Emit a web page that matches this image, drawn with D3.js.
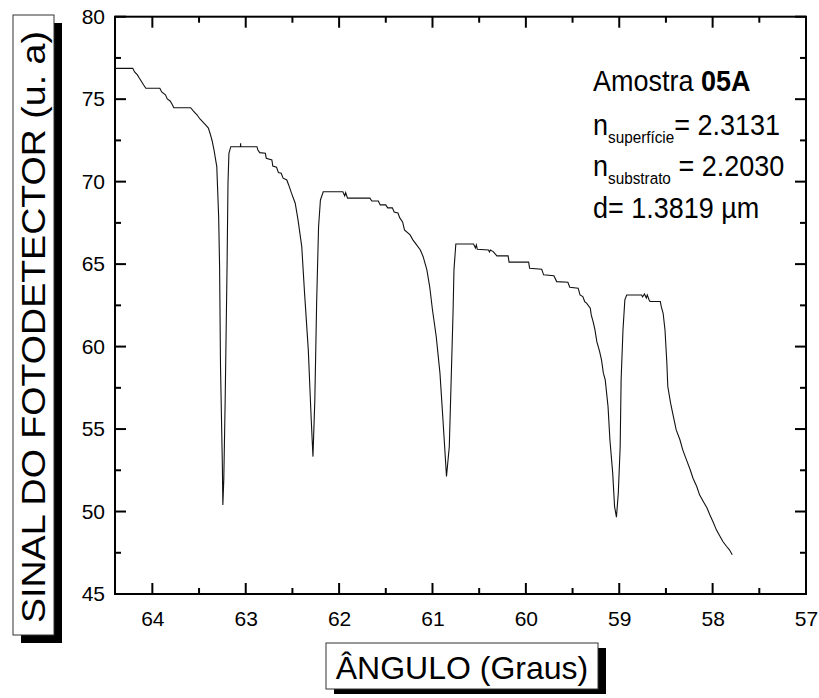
<!DOCTYPE html>
<html>
<head>
<meta charset="utf-8">
<script src="https://cdn.jsdelivr.net/npm/d3@7"></script>
<style>
  body { margin: 0; background: #fff; }
  svg { display: block; font-family: "Liberation Sans", Arial, sans-serif; }
</style>
</head>
<body>
<svg width="819" height="698"></svg>
<script>
// Measured curve: angle (degrees) and photodetector signal (a.u.)
var angle = [
  64.40, 64.21, 64.19, 64.16, 64.14, 64.12, 64.10, 64.07, 63.92, 63.90,
  63.86, 63.84, 63.81, 63.79, 63.77, 63.59, 63.56, 63.52, 63.49, 63.46,
  63.43, 63.40, 63.38, 63.36, 63.34, 63.31, 63.29, 63.28, 63.27, 63.25,
  63.245, 63.235, 63.22, 63.20, 63.19, 63.18, 63.16, 63.057, 63.055, 63.053,
  62.88, 62.87, 62.85, 62.79, 62.78, 62.72, 62.71, 62.67, 62.65, 62.62,
  62.60, 62.56, 62.54, 62.51, 62.47, 62.44, 62.40, 62.37, 62.33, 62.30,
  62.28, 62.26, 62.24, 62.22, 62.20, 62.17, 61.96, 61.94, 61.93, 61.91,
  61.67, 61.65, 61.58, 61.56, 61.50, 61.48, 61.43, 61.41, 61.37, 61.35,
  61.32, 61.30, 61.24, 61.21, 61.17, 61.13, 61.10, 61.06, 61.03, 61.00,
  60.96, 60.92, 60.89, 60.85, 60.82, 60.80, 60.78, 60.77, 60.75, 60.56,
  60.54, 60.53, 60.52, 60.40, 60.39, 60.38, 60.35, 60.31, 60.19, 60.18,
  59.97, 59.96, 59.83, 59.81, 59.70, 59.67, 59.55, 59.53, 59.44, 59.42,
  59.39, 59.37, 59.35, 59.31, 59.30, 59.28, 59.26, 59.24, 59.21, 59.19,
  59.17, 59.15, 59.12, 59.10, 59.07, 59.05, 59.03, 59.01, 58.99, 58.98,
  58.96, 58.94, 58.92, 58.76, 58.75, 58.73, 58.71, 58.70, 58.68, 58.67,
  58.56, 58.55, 58.53, 58.51, 58.49, 58.48, 58.45, 58.42, 58.39, 58.35,
  58.32, 58.28, 58.24, 58.21, 58.17, 58.14, 58.10, 58.06, 58.03, 57.99,
  57.96, 57.92, 57.89, 57.85, 57.82, 57.79
];
var signal = [
  76.87, 76.87, 76.65, 76.47, 76.28, 76.10, 75.92, 75.66, 75.66, 75.44,
  75.26, 75.01, 74.89, 74.71, 74.48, 74.48, 74.28, 74.04, 73.80, 73.62,
  73.44, 73.25, 72.89, 72.48, 71.92, 70.91, 67.88, 64.85, 58.79, 52.73,
  50.40, 51.92, 56.77, 64.85, 69.90, 71.72, 72.12, 72.12, 72.33, 72.12,
  72.12, 71.92, 71.76, 71.72, 71.42, 71.32, 70.95, 70.87, 70.55, 70.51,
  70.21, 70.10, 69.80, 69.30, 68.69, 67.68, 66.06, 63.24, 59.80, 55.76,
  53.33, 56.77, 62.83, 67.27, 68.89, 69.39, 69.39, 69.13, 69.33, 69.00,
  69.00, 68.83, 68.83, 68.59, 68.59, 68.41, 68.41, 68.16, 68.10, 67.80,
  67.56, 67.07, 66.77, 66.47, 66.17, 65.86, 65.45, 64.65, 63.64, 62.22,
  60.61, 58.39, 55.76, 52.12, 53.94, 57.98, 62.02, 64.65, 66.22, 66.22,
  65.98, 66.16, 65.90, 65.86, 65.74, 65.86, 65.76, 65.50, 65.50, 65.12,
  65.12, 64.75, 64.69, 64.35, 64.30, 63.94, 63.90, 63.60, 63.54, 63.13,
  63.03, 62.73, 62.63, 62.33, 61.92, 61.52, 61.01, 60.30, 59.70, 59.19,
  58.39, 57.98, 56.36, 54.35, 52.33, 50.30, 49.66, 51.12, 53.94, 57.98,
  61.01, 62.83, 63.13, 63.13, 63.01, 63.19, 62.95, 63.13, 62.83, 62.73,
  62.73, 62.42, 62.02, 61.01, 58.99, 57.58, 56.57, 55.76, 54.95, 54.35,
  53.74, 53.13, 52.53, 52.02, 51.52, 51.01, 50.61, 50.21, 49.80, 49.30,
  48.89, 48.48, 48.18, 47.88, 47.68, 47.38
];

var xTicks = [64, 63, 62, 61, 60, 59, 58, 57];
var xMinor = [63.5, 62.5, 61.5, 60.5, 59.5, 58.5, 57.5];
var yTicks = [45, 50, 55, 60, 65, 70, 75, 80];
var yMinor = [47.5, 52.5, 57.5, 62.5, 67.5, 72.5, 77.5];

var xLabel = "ÂNGULO (Graus)";
var yLabel = "SINAL DO FOTODETECTOR (u. a)";

var svg = d3.select("svg");
var plotL = 115, plotR = 806, plotT = 16.7, plotB = 594;
var majorLen = 11, minorLen = 6;

var x = d3.scaleLinear().domain([64.4, 57]).range([plotL, plotR]);
var y = d3.scaleLinear().domain([45, 80]).range([plotB, plotT]);

// frame
svg.append("rect")
  .attr("x", plotL).attr("y", plotT)
  .attr("width", plotR - plotL).attr("height", plotB - plotT)
  .attr("fill", "none").attr("stroke", "#000").attr("stroke-width", 2);

// tick labels from the axes
var xAxis = svg.append("g").attr("transform", "translate(0," + plotB + ")")
  .call(d3.axisBottom(x).tickValues(xTicks).tickFormat(d3.format("d"))
    .tickSize(0).tickPadding(17));
var yAxis = svg.append("g").attr("transform", "translate(" + plotL + ",0)")
  .call(d3.axisLeft(y).tickValues(yTicks).tickSize(0).tickPadding(10));
[xAxis, yAxis].forEach(function(g) {
  g.select(".domain").remove();
  g.selectAll(".tick line").remove();
  g.selectAll(".tick text").attr("font-size", 21).attr("fill", "#000")
    .attr("font-family", "Liberation Sans, Arial, sans-serif");
});

// inward tick marks on all four sides
var ticks = svg.append("g").attr("stroke", "#000").attr("stroke-width", 2);
function xMarks(vals, len) {
  ticks.selectAll(null).data(vals).enter().append("line")
    .attr("x1", x).attr("x2", x).attr("y1", plotB).attr("y2", plotB - len);
  ticks.selectAll(null).data(vals).enter().append("line")
    .attr("x1", x).attr("x2", x).attr("y1", plotT).attr("y2", plotT + len);
}
function yMarks(vals, len) {
  ticks.selectAll(null).data(vals).enter().append("line")
    .attr("y1", y).attr("y2", y).attr("x1", plotL).attr("x2", plotL + len);
  ticks.selectAll(null).data(vals).enter().append("line")
    .attr("y1", y).attr("y2", y).attr("x1", plotR).attr("x2", plotR - len);
}
xMarks(xTicks, majorLen);
xMarks(xMinor, minorLen);
yMarks(yTicks, majorLen);
yMarks(yMinor, minorLen);

// curve
var pts = angle.map(function(a, i) { return [a, signal[i]]; });
svg.append("path")
  .datum(pts)
  .attr("fill", "none")
  .attr("stroke", "#111")
  .attr("stroke-width", 1.1)
  .attr("d", d3.line().x(function(d) { return x(d[0]); }).y(function(d) { return y(d[1]); }));

// annotation
var note = svg.append("g").attr("transform", "translate(593,0) scale(0.9,1)")
  .attr("font-size", 30).attr("fill", "#000");
var t1 = note.append("text").attr("x", 0).attr("y", 91);
t1.append("tspan").text("Amostra ");
t1.append("tspan").attr("font-weight", "bold").text("05A");
var t2 = note.append("text").attr("x", 0).attr("y", 135);
t2.append("tspan").text("n");
t2.append("tspan").attr("font-size", 17).attr("dy", 8).text("superfície");
t2.append("tspan").attr("dy", -8).text("= 2.3131");
var t3 = note.append("text").attr("x", 0).attr("y", 176);
t3.append("tspan").text("n");
t3.append("tspan").attr("font-size", 17).attr("dy", 8).text("substrato");
t3.append("tspan").attr("dy", -8).text(" = 2.2030");
note.append("text").attr("x", 0).attr("y", 218).text("d= 1.3819 µm");

// y label box
svg.append("rect").attr("x", 21).attr("y", 23).attr("width", 41).attr("height", 620).attr("fill", "#000");
svg.append("rect").attr("x", 13).attr("y", 15).attr("width", 41).attr("height", 620)
  .attr("fill", "#fff").attr("stroke", "#333").attr("stroke-width", 1);
svg.append("text")
  .attr("transform", "translate(45,327) rotate(-90)")
  .attr("text-anchor", "middle")
  .attr("font-size", 33)
  .attr("textLength", 592).attr("lengthAdjust", "spacingAndGlyphs")
  .text(yLabel);

// x label box
svg.append("rect").attr("x", 334).attr("y", 648).attr("width", 272).attr("height", 46).attr("fill", "#000");
svg.append("rect").attr("x", 326).attr("y", 643).attr("width", 272).attr("height", 46)
  .attr("fill", "#fff").attr("stroke", "#333").attr("stroke-width", 1);
svg.append("text")
  .attr("x", 462).attr("y", 679)
  .attr("text-anchor", "middle")
  .attr("font-size", 32)
  .text(xLabel);
</script>
</body>
</html>
